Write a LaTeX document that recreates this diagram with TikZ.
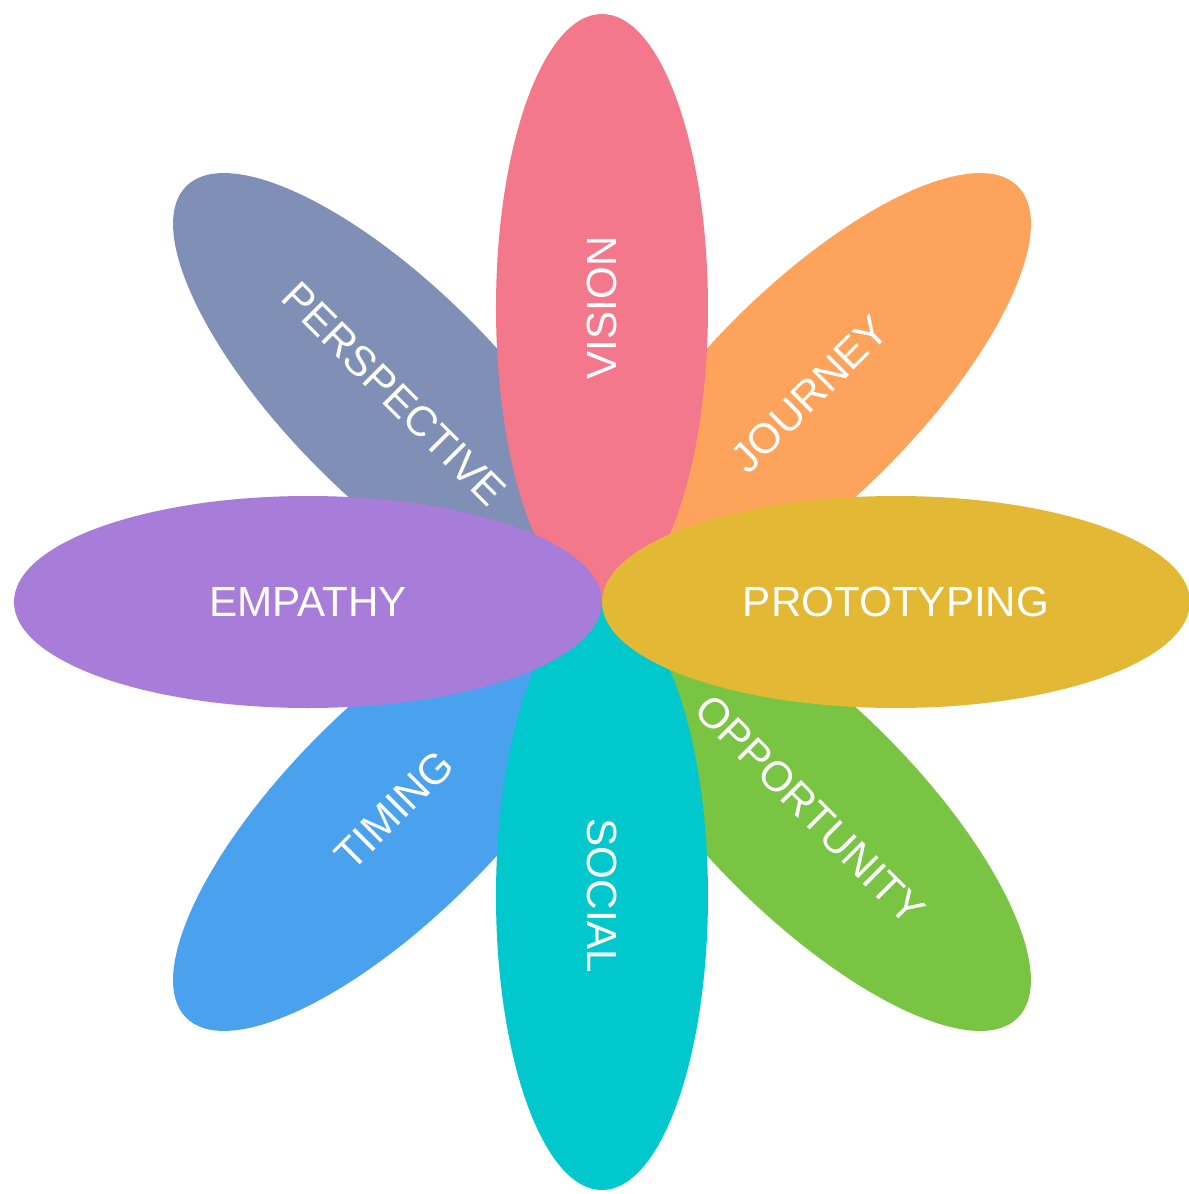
\documentclass[tikz,border=0pt]{standalone}
\usepackage{fontspec}
\setsansfont{Liberation Sans}
\usetikzlibrary{shapes.geometric}

\definecolor{visionpink}{RGB}{244,120,139}
\definecolor{journeyorange}{RGB}{253,163,92}
\definecolor{protogold}{RGB}{226,184,52}
\definecolor{opportgreen}{RGB}{122,196,68}
\definecolor{socialcyan}{RGB}{0,200,204}
\definecolor{timingblue}{RGB}{74,162,238}
\definecolor{empathypurple}{RGB}{167,125,217}
\definecolor{perspslate}{RGB}{127,143,181}

\begin{document}
\begin{tikzpicture}[petal/.style={ellipse,inner sep=0pt,
                                  minimum width=5.88cm,minimum height=2.12cm,
                                  text=white,font=\sffamily\fontsize{12}{14}\selectfont}]
\useasboundingbox (-6.02,-5.92) rectangle (5.86,6.02);
% diagonal petals go underneath
\node[petal,fill=perspslate,rotate=-45]   (perspective) at (135:2.94) {PERSPECTIVE};
\node[petal,fill=journeyorange,rotate=45] (journey)     at (45:2.94)  {JOURNEY};
\node[petal,fill=timingblue,rotate=45]    (timing)      at (225:2.94) {TIMING};
\node[petal,fill=opportgreen,rotate=-45]  (opportunity) at (-45:2.94) {OPPORTUNITY};
% vertical pair
\node[petal,fill=visionpink,rotate=90]    (vision)      at (90:2.94)  {VISION};
\node[petal,fill=socialcyan,rotate=-90]   (social)      at (-90:2.94) {SOCIAL};
% horizontal pair on top
\node[petal,fill=empathypurple]           (empathy)     at (180:2.94) {EMPATHY};
\node[petal,fill=protogold]               (prototyping) at (0:2.94)   {PROTOTYPING};
\end{tikzpicture}
\end{document}
